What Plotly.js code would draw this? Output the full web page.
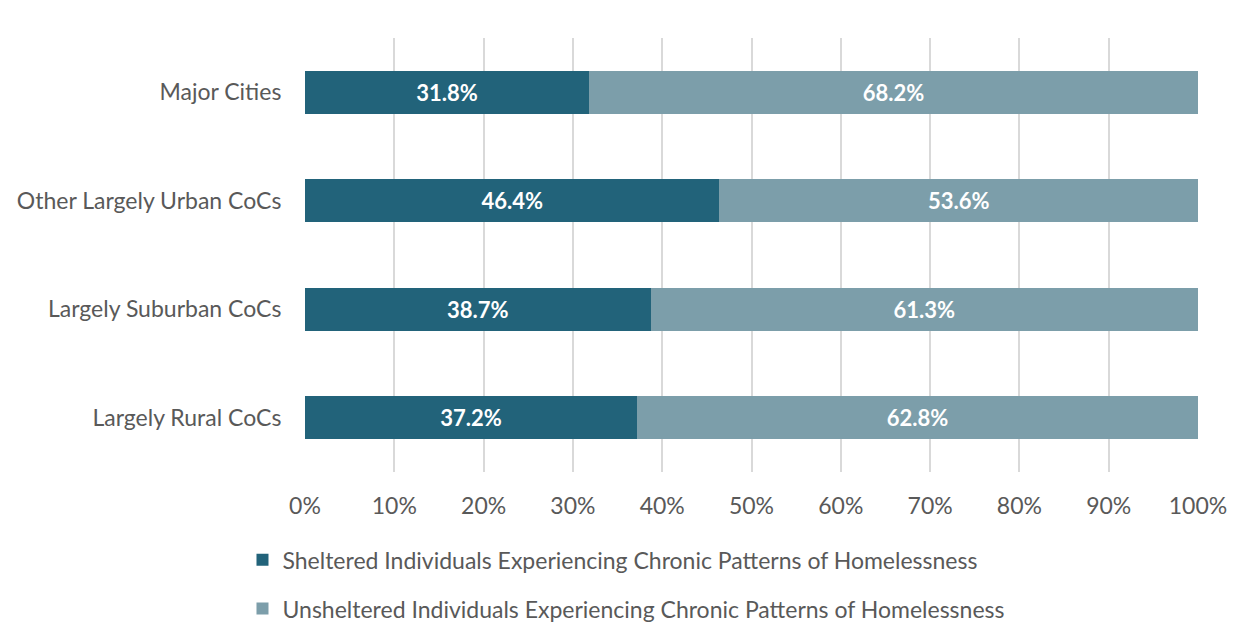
<!DOCTYPE html>
<html>
<head>
<meta charset="utf-8">
<script src="https://cdn.plot.ly/plotly-3.0.1.min.js"></script>
<style>html,body{margin:0;padding:0;background:#fff;}#chart{width:1252px;height:637px;}</style>
</head>
<body>
<div id="chart"></div>
<script>
const categories = ["Major Cities", "Other Largely Urban CoCs", "Largely Suburban CoCs", "Largely Rural CoCs"];
const sheltered = [31.8, 46.4, 38.7, 37.2];
const unsheltered = [68.2, 53.6, 61.3, 62.8];
const seriesNames = ["Sheltered Individuals Experiencing Chronic Patterns of Homelessness",
                     "Unsheltered Individuals Experiencing Chronic Patterns of Homelessness"];
const tickVals = [0,10,20,30,40,50,60,70,80,90,100];
const tickText = ["0%","10%","20%","30%","40%","50%","60%","70%","80%","90%","100%"];

const FONT = "Lato, 'Open Sans', sans-serif";
function mk(vals, name, color, grp) {
  return {
    type: 'bar', orientation: 'h', y: categories, x: vals, name: name,
    legendgroup: grp,
    marker: {color: color},
    text: vals.map(v => v.toFixed(1) + '%'),
    textposition: 'inside', insidetextanchor: 'middle',
    textfont: {color: '#ffffff', size: 22, family: FONT, weight: 'bold'},
    hoverinfo: 'x+y'
  };
}
const data = [mk(sheltered, seriesNames[0], '#22637a', 'a'), mk(unsheltered, seriesNames[1], '#7c9eaa', 'b')];
const layout = {
  width: 1252, height: 637,
  margin: {l: 305, r: 54, t: 38, b: 165},
  barmode: 'stack', bargap: 0.6,
  paper_bgcolor: '#fff', plot_bgcolor: '#fff',
  font: {family: FONT, size: 23, color: '#595959'},
  xaxis: {range: [0, 100], tickvals: tickVals, ticktext: tickText, showgrid: true, automargin: false,
          gridcolor: '#d9d9d9', gridwidth: 1.5, zeroline: false, showline: false, tickangle: 0,
          ticks: 'outside', ticklen: 13, tickcolor: 'rgba(0,0,0,0)',
          tickfont: {size: 23, color: '#595959'}, fixedrange: true},
  yaxis: {autorange: 'reversed', showgrid: false, zeroline: false, showline: false, automargin: false,
          ticks: 'outside', ticklen: 18, tickcolor: 'rgba(0,0,0,0)',
          tickfont: {size: 23, color: '#595959'}, fixedrange: true},
  showlegend: true,
  legend: {orientation: 'v', x: -0.07, yref: 'container', y: 0.155,
           xanchor: 'left', yanchor: 'top', traceorder: 'grouped', tracegroupgap: 16,
           font: {size: 23, color: '#595959', family: FONT}, itemwidth: 30, bgcolor: 'rgba(0,0,0,0)'}
};
Plotly.newPlot('chart', data, layout, {displayModeBar: false});
</script>
</body>
</html>
